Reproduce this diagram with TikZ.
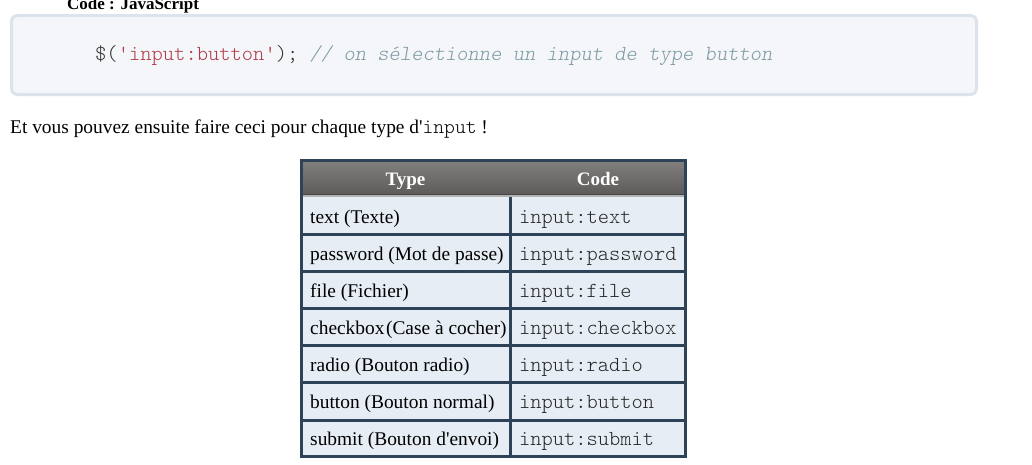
\documentclass[tikz,border=0pt]{standalone}
\usepackage{fontspec}
\setmainfont{Liberation Serif}[Ligatures=TeXOff]
\setmonofont{lmmonolt10-regular.otf}[ItalicFont=lmmonolt10-oblique.otf, BoldFont=lmmonolt10-bold.otf]
\definecolor{boxfill}{HTML}{F4F6F9}
\definecolor{boxline}{HTML}{DCE3EC}
\definecolor{strred}{HTML}{B03A48}
\definecolor{cmtgray}{HTML}{7C9AA2}
\definecolor{punct}{HTML}{333333}
\definecolor{tblline}{HTML}{2E4358}
\definecolor{rowfill}{HTML}{E7EDF4}
\definecolor{hdtop}{HTML}{82807E}
\definecolor{hdbot}{HTML}{5E5C5A}
\begin{document}
\begin{tikzpicture}[x=1pt,y=-1pt,
  serif/.style={font=\fontsize{19.4}{22}\selectfont, text=black, inner sep=0pt, anchor=base west},
  mono/.style={font=\ttfamily\fontsize{21.4}{24}\selectfont, text=black!85, inner sep=0pt, anchor=base west},
  hdr/.style={font=\bfseries\fontsize{19}{22}\selectfont, text=white, inner sep=0pt, anchor=base},
  grid/.style={draw=tblline, line width=3pt},
]
\useasboundingbox (0,0) rectangle (1032,464);
\fill[white] (0,0) rectangle (1032,464);

% title
\node[font=\bfseries\fontsize{17}{20}\selectfont, inner sep=0pt, anchor=base west] (title) at (67,9.5) {Code : JavaScript};

% code box
\draw[boxline, line width=3pt, fill=boxfill, rounded corners=6pt] (11.5,15.5) rectangle (976.5,94.5);
\node[font=\ttfamily\fontsize{21.5}{24}\selectfont, inner sep=0pt, anchor=base west] (code) at (95,60)
  {\textcolor{punct}{\$(}\textcolor{strred}{'input:button'}\textcolor{punct}{);} {\color{cmtgray}\itshape // on sélectionne un input de type button}};

% sentence
\node[serif] (sentence) at (10,133.5) {Et vous pouvez ensuite faire ceci pour chaque type d'{\ttfamily\fontsize{20.6}{22}\selectfont input} !};

% table header
\shade[top color=hdtop, bottom color=hdbot] (301.5,160) rectangle (685.5,194);
\fill[black!72] (301.5,193.5) rectangle (685.5,195);
\fill[black!30] (301.5,195) rectangle (685.5,197);
\fill[rowfill] (301.5,197) rectangle (685.5,456.5);
\node[hdr] (htype) at (405.5,185) {Type};
\node[hdr] (hcode) at (598,185) {Code};

% grid lines
\foreach \y in {234.5,271.6,308.7,345.8,382.9,420}
  \draw[grid] (301.5,\y) -- (685.5,\y);
\draw[grid] (510.5,197) -- (510.5,456.5);
\draw[grid] (301.5,160) rectangle (685.5,456.5);

% rows
\foreach \a/\b [count=\i] in {
  text (Texte)/input:text,
  password (Mot de passe)/input:password,
  file (Fichier)/input:file,
  checkbox\hspace{1.5pt}(Case à cocher)/input:checkbox,
  radio (Bouton radio)/input:radio,
  button (Bouton normal)/input:button,
  submit (Bouton d'envoi)/input:submit}
{
  \pgfmathsetmacro{\yb}{197+37.1*(\i-1)+26}
  \node[serif] (t\i) at (310,\yb) {\a};
  \node[mono] (c\i) at (519,\yb) {\b};
}
\end{tikzpicture}
\end{document}
